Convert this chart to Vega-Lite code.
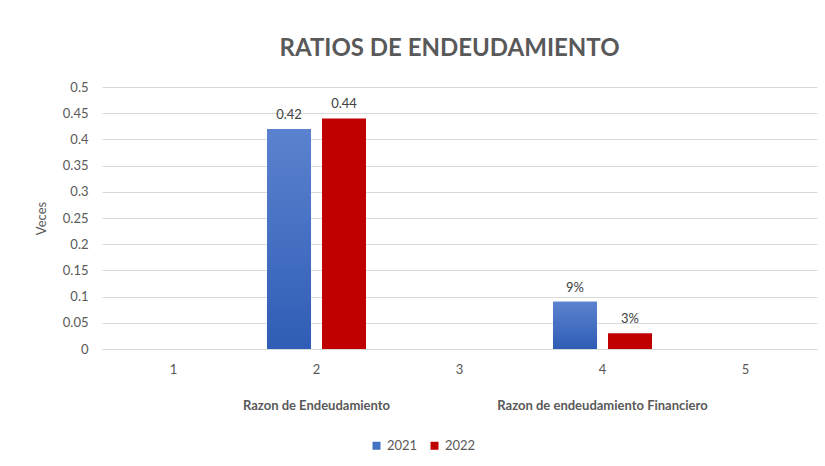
{
  "$schema": "https://vega.github.io/schema/vega-lite/v6.json",
  "autosize": "none",
  "width": 715,
  "height": 262,
  "padding": {"left": 102, "top": 87, "right": 8, "bottom": 117},
  "background": "white",
  "config": {
    "font": "Lato",
    "view": {"stroke": null},
    "axis": {"labelColor": "#595959", "titleColor": "#595959", "labelFont": "Lato", "titleFont": "Lato"}
  },
  "title": {
    "text": "RATIOS DE ENDEUDAMIENTO",
    "fontSize": 24,
    "fontWeight": "bold",
    "color": "#595959",
    "anchor": "middle",
    "dx": -10,
    "offset": 20
  },
  "data": {
    "values": [
      {"cat": "2", "year": "2021", "value": 0.42, "label": "0.42"},
      {"cat": "2", "year": "2022", "value": 0.44, "label": "0.44"},
      {"cat": "4", "year": "2021", "value": 0.09, "label": "9%"},
      {"cat": "4", "year": "2022", "value": 0.03, "label": "3%"}
    ]
  },
  "encoding": {
    "y": {
      "field": "value", "type": "quantitative",
      "scale": {"domain": [0, 0.5]},
      "axis": {
        "title": "Veces", "titleFontSize": 13, "titleFontWeight": "normal", "titlePadding": 14,
        "values": [0, 0.05, 0.1, 0.15, 0.2, 0.25, 0.3, 0.35, 0.4, 0.45, 0.5],
        "format": "~g", "labelFontSize": 13, "labelPadding": 14, "labelOverlap": false,
        "ticks": false, "domain": false, "gridColor": "#d9d9d9"
      }
    }
  },
  "layer": [
    {
      "mark": {"type": "bar"},
      "encoding": {
        "x": {
          "field": "cat", "type": "nominal",
          "scale": {"domain": ["1", "2", "3", "4", "5"], "paddingInner": 0, "paddingOuter": 0},
          "axis": {
            "title": null, "labelAngle": 0, "ticks": false, "domainColor": "#d9d9d9",
            "labelFontSize": 13, "labelPadding": 14, "orient": "bottom"
          }
        },
        "xOffset": {"field": "year", "scale": {"paddingInner": 0.2, "paddingOuter": 0.4}},
        "color": {
          "field": "year", "type": "nominal",
          "scale": {"range": ["#4472C4", "#C00000"]},
          "legend": {
            "title": null, "orient": "none", "direction": "horizontal",
            "legendX": 268, "legendY": 352, "symbolType": "square", "symbolSize": 64,
            "labelFontSize": 13, "labelColor": "#595959", "columnPadding": 10
          }
        }
      }
    },
    {
      "transform": [{"filter": "datum.year == '2021'"}],
      "mark": {
        "type": "bar",
        "color": {
          "gradient": "linear", "x1": 0, "y1": 0, "x2": 0, "y2": 1,
          "stops": [{"offset": 0, "color": "#5b82cf"}, {"offset": 1, "color": "#2f5db5"}]
        }
      },
      "encoding": {
        "x": {"field": "cat", "type": "nominal", "axis": null},
        "xOffset": {"field": "year"}
      }
    },
    {
      "mark": {"type": "text", "dy": -7, "baseline": "bottom", "fontSize": 13, "color": "#404040"},
      "encoding": {
        "x": {"field": "cat", "type": "nominal", "axis": null},
        "xOffset": {"field": "year"},
        "text": {"field": "label"}
      }
    },
    {
      "mark": {"type": "tick", "opacity": 0},
      "encoding": {
        "x": {
          "field": "cat", "type": "nominal",
          "axis": {
            "title": null, "orient": "bottom", "labelAngle": 0, "ticks": false, "domain": false,
            "labelPadding": 50, "labelFontSize": 13, "labelFontWeight": "bold", "labelLimit": 400,
            "labelOverlap": false,
            "labelExpr": "datum.value == '2' ? 'Razon de Endeudamiento' : datum.value == '4' ? 'Razon de endeudamiento Financiero' : ''"
          }
        }
      }
    }
  ],
  "resolve": {"axis": {"x": "independent"}}
}
